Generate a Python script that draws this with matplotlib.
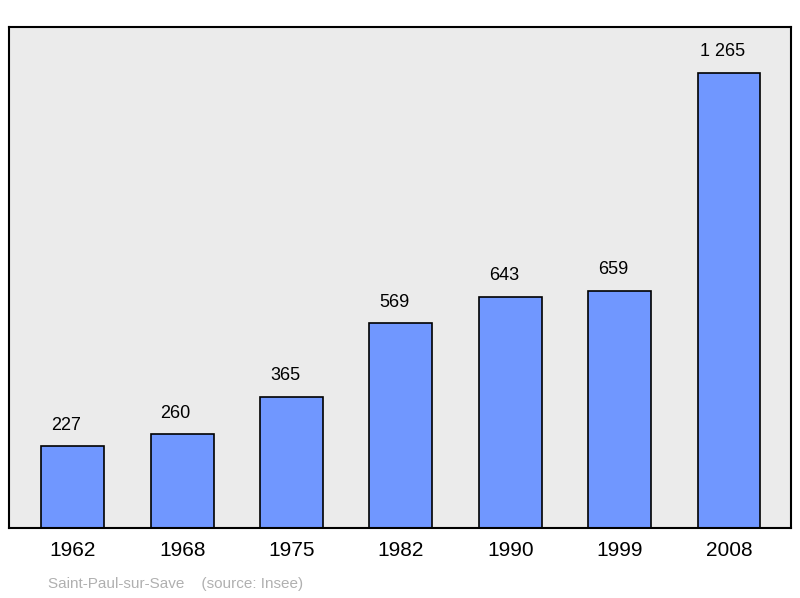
import matplotlib
matplotlib.use("Agg")
import matplotlib.pyplot as plt

years = ["1962", "1968", "1975", "1982", "1990", "1999", "2008"]
population = [227, 260, 365, 569, 643, 659, 1265]
value_labels = ["227", "260", "365", "569", "643", "659", "1 265"]

plt.rcParams["font.family"] = ["Liberation Sans", "DejaVu Sans"]

fig = plt.figure(figsize=(8.0, 5.98), dpi=100)
ax = fig.add_axes([9 / 800, 1 - 528 / 598, 782 / 800, 501 / 598])
ax.set_facecolor("#ebebeb")

x = range(len(years))
ax.bar(x, population, width=0.576, color="#7097ff", edgecolor="black", linewidth=1.2, zorder=2)
for xi, v, lab in zip(x, population, value_labels):
    ax.text(xi - 0.06, v + 35, lab, ha="center", va="bottom", fontsize=13)

ax.set_xlim(-0.585, 6.567)
ax.set_ylim(0, 1393)
ax.set_yticks([])
ax.set_xticks(list(x))
ax.set_xticklabels(years, fontsize=15)
ax.tick_params(axis="x", length=0, pad=9)
for s in ax.spines.values():
    s.set_linewidth(1.5)

fig.text(48 / 800, 1 - 584 / 598, "Saint-Paul-sur-Save    (source: Insee)",
         color="#b0b0b0", fontsize=11, va="center", ha="left")

fig.savefig("out.png", dpi=100)
